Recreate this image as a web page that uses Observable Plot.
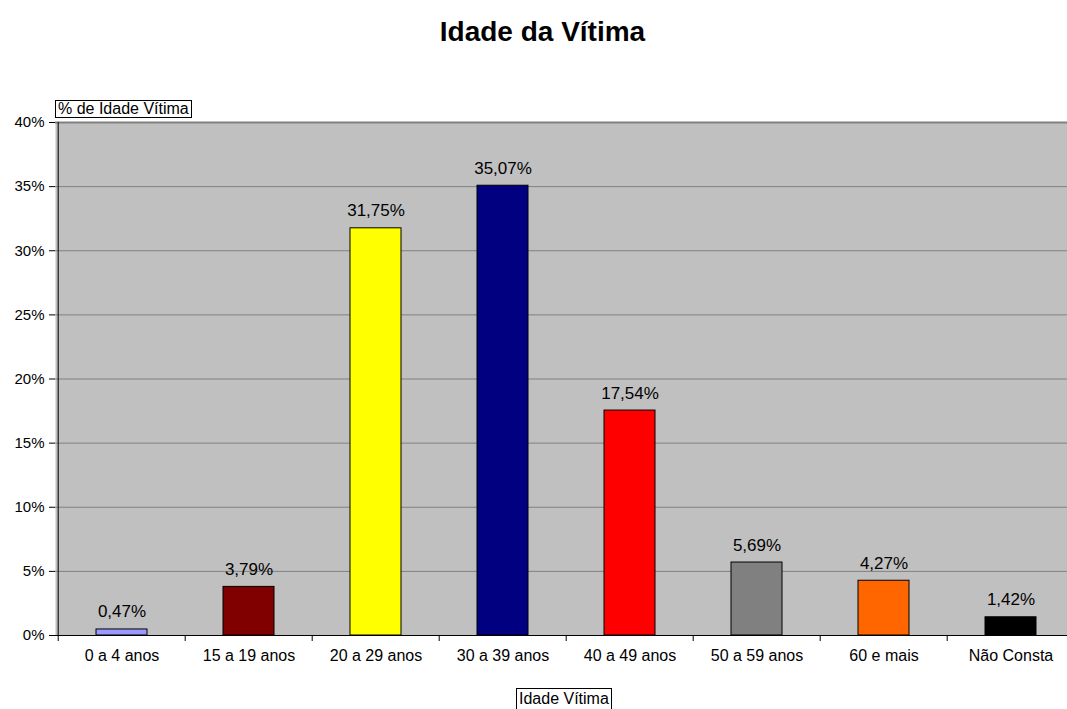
<!DOCTYPE html>
<html><head><meta charset="utf-8">
<script src="https://cdn.jsdelivr.net/npm/d3@7"></script>
<script src="https://cdn.jsdelivr.net/npm/@observablehq/plot@0.6"></script>
<style>
body{margin:0;background:#fff;font-family:"Liberation Sans",Arial,sans-serif;}
#wrap{position:relative;width:1067px;height:709px;overflow:hidden;}
#chart{position:absolute;left:0;top:0;}
#title{position:absolute;left:0;width:1085px;top:16px;text-align:center;font-weight:bold;font-size:28px;line-height:32px;}
.box{position:absolute;border:1px solid #000;background:#fff;font-size:16px;line-height:16px;padding:0 2px;white-space:nowrap;}
</style></head>
<body>
<div id="wrap">
  <div id="chart"></div>
  <div id="title">Idade da Vítima</div>
  <div class="box" style="left:55px;top:100px;">% de Idade Vítima</div>
  <div class="box" style="left:516px;top:688px;padding-top:2px;height:30px;">Idade Vítima</div>
</div>
<script>
const categories = ["0 a 4 anos","15 a 19 anos","20 a 29 anos","30 a 39 anos","40 a 49 anos","50 a 59 anos","60 e mais","Não Consta"];
const values = [0.47, 3.79, 31.75, 35.07, 17.54, 5.69, 4.27, 1.42];
const colors = ["#9999FF","#800000","#FFFF00","#000080","#FF0000","#808080","#FF6600","#000000"];
const yTicks = [0,5,10,15,20,25,30,35,40];

const data = categories.map((c,i) => ({cat: c, value: values[i], color: colors[i]}));
const W = 1067, H = 709, mL = 55, mR = -9, mT = 122, mB = 74;
const step = (W - mL - mR) / categories.length;
const fmt = v => v.toFixed(2).replace(".", ",") + "%";

const chart = Plot.plot({
  width: W, height: H,
  marginLeft: mL, marginRight: mR, marginTop: mT, marginBottom: mB,
  style: {fontFamily: '"Liberation Sans", Arial, sans-serif', background: "transparent", color: "#000"},
  x: {domain: categories, paddingInner: 0.6, paddingOuter: 0.3, label: null},
  y: {domain: [0, 40], label: null},
  marks: [
    Plot.frame({fill: "#c0c0c0", stroke: null}),
    Plot.ruleY(yTicks, {stroke: "#808080", strokeWidth: 1}),
    Plot.ruleY([40], {stroke: "#808080", strokeWidth: 2}),
    Plot.barY(data, {x: "cat", y: "value", fill: "color", stroke: "#000", strokeWidth: 1}),
    Plot.text(data, {x: "cat", y: "value", text: d => fmt(d.value), lineAnchor: "bottom", dy: -12, fontSize: 17, fill: "#000"}),
    Plot.ruleY([0], {stroke: "#000", strokeWidth: 1}),
    Plot.ruleX([categories[0]], {dx: -step / 2, stroke: "#000", strokeWidth: 1}),
    Plot.axisY({ticks: yTicks, tickFormat: d => d + "%", tickSize: 6, tickPadding: 5, fontSize: 15, label: null}),
    Plot.axisX({tickSize: 0, tickPadding: 14, fontSize: 16, label: null}),
    Plot.axisX({tickSize: 6, tickFormat: () => "", dx: -step / 2, label: null})
  ]
});
document.getElementById("chart").appendChild(chart);
</script>
</body></html>
